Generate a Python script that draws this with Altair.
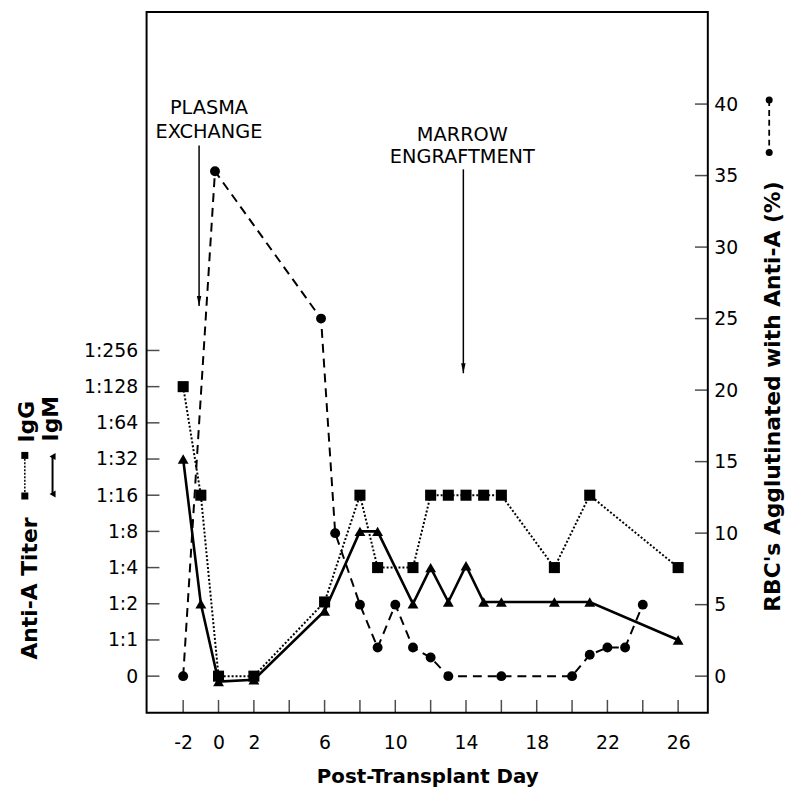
import altair as alt
import pandas as pd

# ---------------- data ----------------
igg_day = [-2, -1, 0, 2, 6, 8, 9, 11, 12, 13, 14, 15, 16, 19, 21, 26]
igg_level = [8, 5, 0, 0, 2.05, 5, 3, 3, 5, 5, 5, 5, 5, 3, 5, 3]

igm_day = [-2, -1, 0, 2, 6, 8, 9, 11, 12, 13, 14, 15, 16, 19, 21, 26]
igm_level = [6, 2, -0.15, -0.1, 1.8, 4, 4, 2, 3, 2.05, 3.05, 2.05, 2.05, 2.05, 2.05, 1.0]

rbc_day = [-2, -0.2, 5.8, 6.6, 8, 9, 10, 11, 12, 13, 16, 20, 21, 22, 23, 24]
rbc_pct = [0, 35.3, 25, 10, 5, 2, 5, 2, 1.3, 0, 0, 0, 1.5, 2, 2, 5]

titer_labels = ["0", "1:1", "1:2", "1:4", "1:8", "1:16", "1:32", "1:64", "1:128", "1:256"]
titer_levels = list(range(len(titer_labels)))
x_label_days = [-2, 0, 2, 6, 10, 14, 18, 22, 26]
x_tick_days = list(range(-2, 27, 2))
pct_ticks = list(range(0, 41, 5))

annot_day = [-1.1, 13.85]
annot_text = [["PLASMA", "EXCHANGE"], ["MARROW", "ENGRAFTMENT"]]

# ---------------- layout ----------------
W, H = 567, 708
FONT = "DejaVu Sans"

igg = pd.DataFrame({"day": igg_day, "level": igg_level})
igm = pd.DataFrame({"day": igm_day, "level": igm_level})
rbc = pd.DataFrame({"day": rbc_day, "pct": rbc_pct})
xt = pd.DataFrame({"day": x_tick_days})
lt = pd.DataFrame({"level": titer_levels})
rt = pd.DataFrame({"pct": pct_ticks})

label_arr = "[" + ",".join("'%s'" % s for s in titer_labels) + "]"

xenc = alt.X(
    "day:Q",
    scale=alt.Scale(domain=[-4.07, 27.68], nice=False, zero=False),
    axis=alt.Axis(
        values=x_label_days, labelExpr="datum.value < 0 ? '-' + (-datum.value) : '' + datum.value",
        ticks=False, domain=False, grid=False, labelPadding=21, labelFontSize=19,
        labelFont=FONT, labelColor="black",
        title="Post-Transplant Day", titleFont=FONT, titleFontSize=20, titleFontWeight="bold",
        titleColor="black", titlePadding=14,
    ),
)

yleft = alt.Y(
    "level:Q",
    scale=alt.Scale(domain=[-1.012, 18.354], nice=False, zero=False),
    axis=alt.Axis(
        values=titer_levels, labelExpr=label_arr + "[datum.value]",
        ticks=False, domain=False, grid=False, labelPadding=9, labelFontSize=19,
        labelFont=FONT, labelColor="black",
        title="Anti-A Titer", titleFont=FONT, titleFontSize=22, titleFontWeight="bold",
        titleColor="black", titleAngle=270, titleX=-118, titleY=582,
        titleAlign="center", titleBaseline="middle",
    ),
)

yright = alt.Y(
    "pct:Q",
    scale=alt.Scale(domain=[-2.56, 46.44], nice=False, zero=False),
    axis=alt.Axis(
        orient="right", values=pct_ticks,
        ticks=False, domain=False, grid=False, labelPadding=6, labelFontSize=19,
        labelFont=FONT, labelColor="black",
        title="RBC's Agglutinated with Anti-A (%)", titleFont=FONT, titleFontSize=22,
        titleFontWeight="bold", titleColor="black", titleAngle=270, titleX=65, titleY=388,
        titleAlign="center", titleBaseline="middle",
    ),
)

# ---------- left-scale group ----------
igg_line = alt.Chart(igg).mark_line(color="black", strokeWidth=2, strokeDash=[2, 2]).encode(x=xenc, y=yleft)
igg_pts = alt.Chart(igg).mark_point(shape="square", filled=True, color="black", size=125, opacity=1).encode(x=xenc, y=yleft)
igm_line = alt.Chart(igm).mark_line(color="black", strokeWidth=2.6).encode(x=xenc, y=yleft)
igm_pts = alt.Chart(igm).mark_point(shape="triangle-up", filled=True, color="black", size=120, opacity=1).encode(x=xenc, y=yleft)
left_ticks = alt.Chart(lt).mark_tick(orient="horizontal", color="black", size=13, thickness=1.5).encode(
    y=yleft, x=alt.value(6.5))
x_ticks = alt.Chart(xt).mark_tick(orient="vertical", color="black", size=13, thickness=1.5).encode(
    x=xenc, y=alt.value(H - 6.5))

# annotations (arrows at data x positions)
ann = pd.DataFrame({"day": annot_day, "y1": [135, 159], "y2": [297, 365]})
arrow_shafts = alt.Chart(ann).mark_rule(color="black", strokeWidth=1.5).encode(
    x=xenc, y=alt.Y("y1:Q", scale=None), y2=alt.Y2("y2:Q"))
arrow_heads = alt.Chart(ann).transform_calculate(yh="datum.y2 - 5").mark_point(
    shape="M-0.45,-1L0.45,-1L0,1Z", filled=True, color="black", size=100, opacity=1).encode(
    x=xenc, y=alt.Y("yh:Q", scale=None))
txt1 = alt.Chart().mark_text(text=annot_text[0], font=FONT, fontSize=19.5, align="center",
                             baseline="alphabetic", lineHeight=24, color="black").encode(
    x=alt.value(63), y=alt.value(103))
txt2 = alt.Chart().mark_text(text=annot_text[1], font=FONT, fontSize=19.5, align="center",
                             baseline="alphabetic", lineHeight=23, color="black").encode(
    x=alt.value(319), y=alt.value(130))

# left legend glyphs (IgG / IgM) beside the axis title
leg_igg_line = alt.Chart().mark_rule(color="black", strokeWidth=1.5, strokeDash=[2, 1.5]).encode(
    x=alt.value(-123), y=alt.value(448), y2=alt.value(489))
leg_igg_pts = alt.Chart(pd.DataFrame({"py": [448, 489]})).mark_point(
    shape="square", filled=True, color="black", size=50, opacity=1).encode(
    x=alt.value(-123), y=alt.Y("py:Q", scale=None))
leg_igg_txt = alt.Chart().mark_text(text="IgG", font=FONT, fontSize=22, fontWeight="bold", angle=270,
                                    align="center", baseline="middle", color="black").encode(
    x=alt.value(-121), y=alt.value(414))
leg_igm_line = alt.Chart().mark_rule(color="black", strokeWidth=2).encode(
    x=alt.value(-95), y=alt.value(449), y2=alt.value(487))
leg_igm_pts = alt.Chart(pd.DataFrame({"py": [449, 487]})).mark_point(
    shape="triangle-left", filled=True, color="black", size=50, opacity=1).encode(
    x=alt.value(-95), y=alt.Y("py:Q", scale=None))
leg_igm_txt = alt.Chart().mark_text(text="IgM", font=FONT, fontSize=22, fontWeight="bold", angle=270,
                                    align="center", baseline="middle", color="black").encode(
    x=alt.value(-96), y=alt.value(411))

left_group = alt.layer(
    x_ticks, left_ticks, igg_line, igm_line, igg_pts, igm_pts,
    arrow_shafts, arrow_heads, txt1, txt2,
    leg_igg_line, leg_igg_pts, leg_igg_txt, leg_igm_line, leg_igm_pts, leg_igm_txt,
)

# ---------- right-scale group ----------
rbc_line = alt.Chart(rbc).mark_line(color="black", strokeWidth=2, strokeDash=[9, 6]).encode(x=xenc, y=yright)
rbc_pts = alt.Chart(rbc).mark_point(shape="circle", filled=True, color="black", size=100, opacity=1).encode(x=xenc, y=yright)
right_ticks = alt.Chart(rt).mark_tick(orient="horizontal", color="black", size=13, thickness=1.5).encode(
    y=yright, x=alt.value(W - 6.5))
leg_rbc_line = alt.Chart().mark_rule(color="black", strokeWidth=1.8, strokeDash=[6, 4]).encode(
    x=alt.value(629), y=alt.value(89), y2=alt.value(142))
leg_rbc_pts = alt.Chart(pd.DataFrame({"py": [89, 142]})).mark_point(
    shape="circle", filled=True, color="black", size=50, opacity=1).encode(
    x=alt.value(629), y=alt.Y("py:Q", scale=None))

right_group = alt.layer(right_ticks, rbc_line, rbc_pts, leg_rbc_line, leg_rbc_pts)

chart = (
    alt.layer(left_group, right_group)
    .resolve_scale(y="independent")
    .properties(width=W, height=H, autosize=alt.AutoSizeParams(type="none"),
                padding={"left": 140, "top": 0, "right": 81, "bottom": 72})
    .configure(font=FONT, background="white")
    .configure_view(stroke="black", strokeWidth=2)
)

chart.save("out.html", embed_options={"renderer": "svg", "actions": False})
